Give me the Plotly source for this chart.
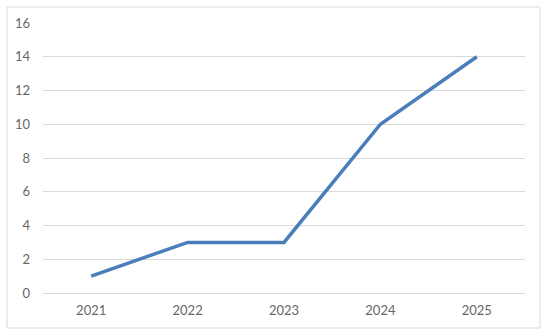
import plotly.graph_objects as go

years = ['2021', '2022', '2023', '2024', '2025']
values = [1, 3, 3, 10, 14]
y_ticks = [0, 2, 4, 6, 8, 10, 12, 14, 16]

W, H = 550, 336
ml, mr, mt, mb = 43, 25, 23, 43
pw, ph = W - ml - mr, H - mt - mb

fig = go.Figure()

fig.add_trace(go.Scatter(
    x=years,
    y=values,
    mode='lines',
    line=dict(color='#4a7ebb', width=3.5),
    hoverinfo='x+y'
))

# outer chart border (paper coords relative to plot area)
fig.add_shape(
    type='rect',
    xref='paper', yref='paper',
    x0=(7 - ml) / pw, x1=(540 - ml) / pw,
    y0=(H - mb - 328) / ph, y1=(H - mb - 7) / ph,
    line=dict(color='#d9d9d9', width=1),
    fillcolor='rgba(0,0,0,0)',
    layer='below'
)

fig.update_layout(
    width=W,
    height=H,
    margin=dict(l=ml, r=mr, t=mt, b=mb),
    plot_bgcolor='white',
    paper_bgcolor='white',
    font=dict(family='Lato, Open Sans, sans-serif', size=13, color='#666666'),
    showlegend=False,
    xaxis=dict(
        type='category',
        range=[-0.5, 4.5],
        showgrid=False,
        showline=False,
        zeroline=False,
        ticks='',
        ticklabelstandoff=8,
    ),
    yaxis=dict(
        range=[0, 16],
        tickvals=y_ticks,
        showgrid=True,
        gridcolor='#d9d9d9',
        gridwidth=1,
        zeroline=True,
        zerolinecolor='#d9d9d9',
        zerolinewidth=1,
        showline=False,
        ticks='',
        ticklabelstandoff=12,
    ),
)

# drop the default page margin so the chart sits at the window's corner
fig.write_html("out.html", config={'displayModeBar': False},
               post_script="document.body.style.margin='0';")
